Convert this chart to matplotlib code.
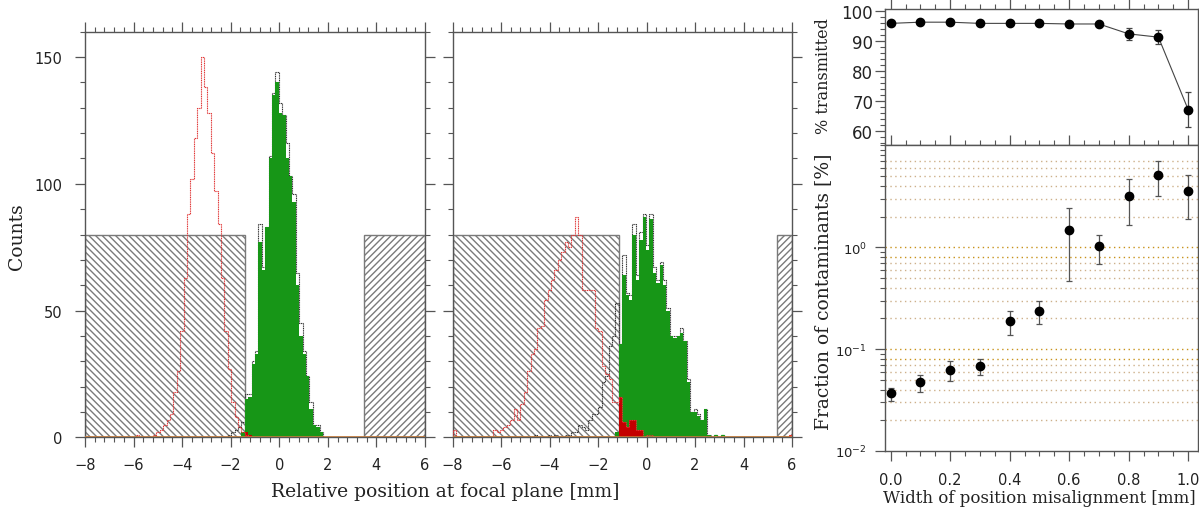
import numpy as np
import matplotlib
matplotlib.use("Agg")
import matplotlib.pyplot as plt
from matplotlib.patches import Rectangle
from matplotlib.ticker import MultipleLocator, FixedLocator, NullFormatter, LogFormatterSciNotation

# ---------------- data ----------------
bin_lo, bin_hi, n_bins = -8.0, 6.0, 100
edges = np.linspace(bin_lo, bin_hi, n_bins + 1)

# left panel (A)
a_contam_start = 15
a_contam = [1, 0, 0, 0, 0, 1, 2, 3, 5, 7, 9, 18, 26, 42, 63, 88, 102, 118, 130, 150,
            138, 128, 112, 97, 84, 63, 42, 27, 14, 8, 4, 2, 1]
a_total_start = 42
a_total = [1, 2, 3, 4, 6, 17, 17, 30, 34, 84, 67, 83, 111, 136, 144, 132, 127, 116,
           103, 96, 65, 45, 34, 24, 14, 5, 5, 2]
a_pass_start = 46
a_pass = [2, 15, 16, 29, 33, 77, 66, 83, 110, 135, 140, 128, 127, 110, 103, 93, 60,
          40, 33, 24, 11, 5, 4, 2]
a_cpass_start = 47
a_cpass = [2, 1]
a_block_left = (-8.0, -1.40)
a_block_right = (3.50, 6.0)

# middle panel (B)
b_contam_start = 0
b_contam = [3, 0, 0, 0, 0, 0, 0, 0, 0, 0, 0, 0,
            3, 2, 3, 4, 5, 7, 11, 7, 13, 18, 26, 33, 35, 43, 44, 54, 58, 62, 66, 70,
            73, 77, 75, 80, 87, 80, 58, 58, 58, 58, 43, 42, 28, 25, 23, 14, 14, 16,
            6, 4, 7, 7, 3, 3, 0, 1, 1]
b_contam_tail_start = 99
b_contam_tail = [1]
b_total_start = 24
b_total = [1, 0, 0, 0, 1, 0, 1, 0, 0, 1, 1, 2, 2, 5, 4, 3, 7, 9, 9, 12, 22, 24, 36,
           40, 53, 37, 72, 57, 56, 84, 64, 81, 88, 76, 88, 67, 62, 69, 62, 51, 40, 40,
           40, 43, 38, 23, 10, 11, 9, 7, 11, 1]
b_pass_start = 48
b_pass = [2, 37, 64, 56, 54, 80, 62, 78, 87, 74, 86, 65, 61, 68, 60, 50, 40, 39, 40,
          41, 38, 22, 10, 10, 8.5, 7, 11, 1]
b_pass_tail_start = 77
b_pass_tail = [1, 0, 1]
b_cpass_start = 49
b_cpass = [16, 6, 4, 7, 7, 3, 3]
b_block_left = (-8.0, -1.13)
b_block_right = (5.40, 6.0)
block_height = 80

# right panels
widths = [0.0, 0.1, 0.2, 0.3, 0.4, 0.5, 0.6, 0.7, 0.8, 0.9, 1.0]
transmitted = [95.8, 96.2, 96.2, 95.8, 95.8, 95.8, 95.6, 95.6, 92.3, 91.2, 67.0]
trans_lo = [95.2, 95.6, 95.6, 95.2, 95.2, 95.2, 95.0, 95.0, 90.3, 88.9, 61.1]
trans_hi = [96.4, 96.8, 96.8, 96.4, 96.4, 96.4, 96.2, 96.2, 94.2, 93.6, 72.9]
contam = [0.037, 0.0475, 0.063, 0.069, 0.19, 0.238, 1.47, 1.02, 3.18, 5.08, 3.55]
contam_lo = [0.031, 0.038, 0.049, 0.0556, 0.137, 0.176, 0.468, 0.69, 1.67, 3.21, 1.89]
contam_hi = [0.042, 0.056, 0.077, 0.080, 0.239, 0.298, 2.45, 1.33, 4.7, 6.97, 5.13]
grid_dark = [0.08, 0.1, 0.8, 1.0]
grid_light = [0.02, 0.03, 0.04, 0.05, 0.06, 0.07, 0.2, 0.3, 0.4, 0.5, 0.6, 0.7,
              2, 3, 4, 5, 6, 7]


def full(start, vals):
    arr = np.zeros(n_bins)
    arr[start:start + len(vals)] = vals
    return arr


# ---------------- style ----------------
GREEN = "#179617"
DRED = "#c40000"
LRED = "#e03434"
HATCH = "#7a7a7a"
SPINE = "#555555"
TXT = "#222222"
SERIF = "DejaVu Serif"
plt.rcParams["font.family"] = ["DejaVu Sans"]
plt.rcParams["hatch.linewidth"] = 1.0

W, H = 1199, 510
fig = plt.figure(figsize=(W / 100, H / 100), dpi=100)


def frac(x0, y_top, x1, y_bot):
    return [x0 / W, 1 - y_bot / H, (x1 - x0) / W, (y_bot - y_top) / H]


axA = fig.add_axes(frac(85, 32.7, 425, 438.3))
axB = fig.add_axes(frac(452.5, 32.7, 792, 438.3))
axT = fig.add_axes(frac(885, 10, 1198, 146))
axL = fig.add_axes(frac(885, 146, 1198, 452))


def style_axes(ax, labelsize, ypad, xpad):
    for s in ax.spines.values():
        s.set_color(SPINE)
        s.set_linewidth(1.0)
    ax.tick_params(which="both", direction="out", top=True, right=True,
                   colors=SPINE, labelcolor=TXT, labelsize=labelsize)
    ax.tick_params(which="major", length=7, width=0.9)
    ax.tick_params(which="minor", length=3.5, width=0.8)
    ax.tick_params(axis="y", pad=ypad)
    ax.tick_params(axis="x", pad=xpad)


def draw_hist(ax, contam_full, total_full, pass_full, cpass_full, blocks, extra_contam=None,
              pass_tail=None):
    bl, br = blocks
    ax.add_patch(Rectangle((bl[0], 0), bl[1] - bl[0], block_height, fill=False,
                           hatch="\\" * 5, edgecolor=HATCH, lw=1.0, zorder=1))
    ax.add_patch(Rectangle((br[0], 0), br[1] - br[0], block_height, fill=False,
                           hatch="/" * 5, edgecolor=HATCH, lw=1.0, zorder=1))
    ax.stairs(total_full, edges, color="#303030", lw=0.8, ls=(0, (1, 0.6)), zorder=2)
    ax.stairs(pass_full, edges, fill=True, color=GREEN, lw=0, zorder=3)
    if pass_tail is not None:
        ax.stairs(pass_tail, edges, color=GREEN, lw=0.9, zorder=3)
    ax.stairs(cpass_full, edges, fill=True, color=DRED, lw=0, zorder=4)
    ax.stairs(contam_full, edges, color=LRED, lw=0.8, ls=(0, (1, 0.6)), zorder=5)
    if extra_contam is not None:
        ax.stairs(extra_contam, edges, color=LRED, lw=0.8, zorder=5)
    ax.axhline(0, color="#c27a3a", lw=1.2, zorder=6)
    ax.set_xlim(bin_lo, bin_hi)
    ax.set_ylim(0, 160)
    ax.xaxis.set_major_locator(MultipleLocator(2))
    ax.xaxis.set_minor_locator(MultipleLocator(0.4))
    ax.yaxis.set_major_locator(MultipleLocator(50))
    ax.yaxis.set_minor_locator(MultipleLocator(10))
    style_axes(ax, 10.5, 9, 7)


draw_hist(axA, full(a_contam_start, a_contam), full(a_total_start, a_total),
          full(a_pass_start, a_pass), full(a_cpass_start, a_cpass),
          (a_block_left, a_block_right))
draw_hist(axB, full(b_contam_start, b_contam), full(b_total_start, b_total),
          full(b_pass_start, b_pass), full(b_cpass_start, b_cpass),
          (b_block_left, b_block_right),
          extra_contam=full(b_contam_tail_start, b_contam_tail),
          pass_tail=full(b_pass_tail_start, b_pass_tail))
axB.set_yticklabels([])

fig.text(17 / W, 1 - 237 / H, "Counts", rotation=90, ha="center", va="center",
         family=SERIF, fontsize=13.5, color=TXT)
fig.text(445 / W, 1 - 492 / H, "Relative position at focal plane [mm]", ha="center",
         va="center", family=SERIF, fontsize=13.5, color=TXT)

# ---- right top: transmission ----
t = np.array(transmitted)
axT.errorbar(widths, transmitted, yerr=[t - np.array(trans_lo), np.array(trans_hi) - t],
             fmt="o", color="black", ms=6, ecolor="#444444", elinewidth=0.9,
             capsize=2.5, capthick=0.9, zorder=3)
axT.plot(widths, transmitted, color="#444444", lw=0.8, zorder=2)
axT.set_xlim(-0.019, 1.033)
axT.set_ylim(55.2, 100.6)
axT.yaxis.set_major_locator(MultipleLocator(10))
axT.yaxis.set_minor_locator(MultipleLocator(2))
axT.xaxis.set_major_locator(MultipleLocator(0.2))
axT.xaxis.set_minor_locator(MultipleLocator(0.05))
style_axes(axT, 12, 1.5, 7)
axT.set_xticklabels([])
fig.text(823 / W, 1 - 76 / H, "% transmitted", rotation=90, ha="center", va="center",
         family=SERIF, fontsize=11.5, color=TXT)

# ---- right bottom: contamination ----
c = np.array(contam)
for g in grid_light:
    axL.axhline(g, color="#cdb08a", lw=1.0, ls=(0, (1, 2.5)), zorder=1)
for g in grid_dark:
    axL.axhline(g, color="#c8921a", lw=1.0, ls=(0, (1, 2.5)), zorder=1)
axL.errorbar(widths, contam, yerr=[c - np.array(contam_lo), np.array(contam_hi) - c],
             fmt="o", color="black", ms=6, ecolor="#555555", elinewidth=0.9,
             capsize=2.5, capthick=0.9, zorder=3)
axL.set_yscale("log")
axL.set_xlim(-0.019, 1.033)
axL.set_ylim(0.01, 10.1)
axL.yaxis.set_major_locator(FixedLocator([0.01, 0.1, 1.0]))
axL.yaxis.set_major_formatter(LogFormatterSciNotation())
minor_vals = [m * d for d in (0.01, 0.1, 1.0) for m in range(2, 10)] + [10.0]
axL.yaxis.set_minor_locator(FixedLocator(minor_vals))
axL.yaxis.set_minor_formatter(NullFormatter())
axL.xaxis.set_major_locator(MultipleLocator(0.2))
axL.xaxis.set_minor_locator(MultipleLocator(0.05))
axL.xaxis.set_major_formatter(matplotlib.ticker.FormatStrFormatter("%.1f"))
style_axes(axL, 10.5, 6, 8)
axL.tick_params(axis="y", labelsize=9.5)
fig.text(823 / W, 1 - 292 / H, "Fraction of contaminants [%]", rotation=90, ha="center",
         va="center", family=SERIF, fontsize=13.5, color=TXT)
fig.text(1039 / W, 1 - 499 / H, "Width of position misalignment [mm]", ha="center",
         va="center", family=SERIF, fontsize=12, color=TXT)

fig.savefig("out.png", dpi=100)
